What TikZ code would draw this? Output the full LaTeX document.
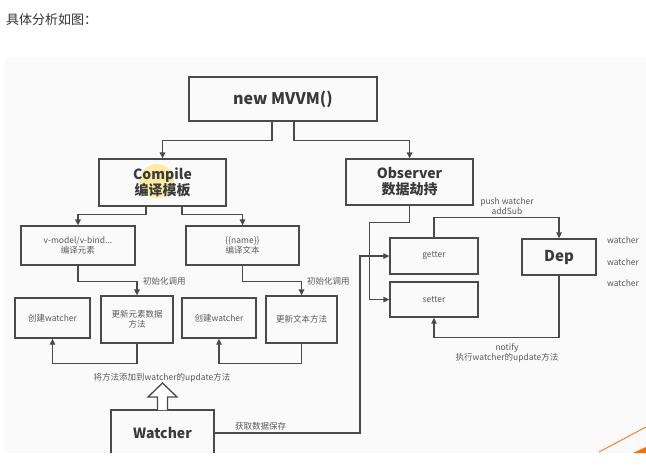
\documentclass[tikz,border=0pt]{standalone}
\usepackage{fontspec}
\setmainfont{Noto Sans CJK SC}
\usetikzlibrary{arrows.meta}
\definecolor{ln}{HTML}{4A4A4A}
\definecolor{tx}{HTML}{3A3A3A}
\definecolor{stx}{HTML}{5A5A5A}
\tikzset{
  box/.style={draw=ln, line width=1.3pt, inner sep=0pt, align=center, text=tx},
  small/.style={font=\fontsize{8.5}{10.5}\selectfont, text=stx},
  big/.style={font=\fontsize{14}{16}\selectfont\bfseries, text=tx},
  arr/.style={draw=ln, line width=1.3pt, -{Triangle[length=6pt,width=5.5pt]}},
  lbl/.style={font=\fontsize{8.5}{10.5}\selectfont, text=stx, inner sep=0pt, align=center},
}
\begin{document}
\begin{tikzpicture}[x=1pt,y=-1pt]
\useasboundingbox (0,0) rectangle (646,475);
\fill[white] (0,0) rectangle (646,475);
\fill[black!2] (5,58) rectangle (646,453);
\node[anchor=west, inner sep=0pt, font=\fontsize{13}{15}\selectfont, text=black!80] (title) at (6,20) {具体分析如图：};
% highlight
\fill[yellow!70!orange!60, opacity=0.6] (157,181) circle (17);
% nodes
\node[box, minimum width=188pt, minimum height=44pt, font=\fontsize{16}{18}\selectfont\bfseries] (mvvm) at (283,99) {new MVVM()};
\node[box, minimum width=127pt, minimum height=47pt, big] (compile) at (162.5,182.5) {Compile\\编译模板};
\node[box, minimum width=127pt, minimum height=46pt, big] (observer) at (409.5,182) {Observer\\数据劫持};
\node[box, minimum width=114pt, minimum height=39pt, small] (vmodel) at (78,245.5) {v-model/v-bind...\\编译元素};
\node[box, minimum width=113pt, minimum height=39pt, small] (name) at (242.5,245.5) {\{\{name\}\}\\编译文本};
\node[box, minimum width=75pt, minimum height=40pt, small] (cw1) at (52.5,318) {创建watcher};
\node[box, minimum width=72pt, minimum height=47pt, small] (upd1) at (137,319.5) {更新元素数据\\方法};
\node[box, minimum width=74pt, minimum height=40pt, small] (cw2) at (219,318) {创建watcher};
\node[box, minimum width=71pt, minimum height=47pt, small] (upd2) at (301.5,319.5) {更新文本方法};
\node[box, minimum width=88pt, minimum height=36pt, small] (getter) at (434,256) {getter};
\node[box, minimum width=88pt, minimum height=35pt, small] (setter) at (434,299.5) {setter};
\node[box, minimum width=74pt, minimum height=36pt, font=\fontsize{15}{17}\selectfont\bfseries] (dep) at (559,257) {Dep};
\node[inner sep=0pt, big] (watcher) at (162.5,433) {Watcher};
\draw[ln, line width=1.3pt] (111,453) |- (214,410) -- (214,453);
\coordinate (wR) at (214,433);
% connectors
\draw[arr] ([xshift=-11pt]mvvm.south) -- ++(0,19) -| (compile.north);
\draw[arr] ([xshift=11pt]mvvm.south) -- ++(0,19) -| (observer.north);
\draw[arr] ([xshift=-16.5pt]compile.south) -- ++(0,8) -| (vmodel.north);
\draw[arr] ([xshift=19.5pt]compile.south) -- ++(0,8) -| (name.north);
\draw[arr] (vmodel.south) -- ++(0,16) -| (upd1.north);
\draw[arr] (name.south) -- ++(0,16) -| (upd2.north);
\draw[arr] (upd1.south) -- ++(0,20) -| (cw1.south);
\draw[arr] (upd2.south) -- ++(0,20) -| (cw2.south);
\draw[arr] (wR) -- ++(146,0) |- (getter.west);
\draw[arr] (observer.south) -- ++(0,17) -- ++(-40,0) |- (setter.west);
\draw[arr] (getter.north) -- ++(0,-20) -| (dep.north);
\draw[arr] (dep.south) -- ++(0,62) -| (setter.south);
% hollow arrow
\draw[ln, line width=1.3pt, fill=white, line join=miter] (157.5,410) -- (157.5,397) -- (148,397) -- (162.5,383) -- (177,397) -- (167.5,397) -- (167.5,410);
% labels
\node[lbl, anchor=west] (l1) at (143,281) {初始化调用};
\node[lbl, anchor=west] (l2) at (307,281) {初始化调用};
\node[lbl] (l3) at (162,378) {将方法添加到watcher的update方法};
\node[lbl, anchor=west] (l4) at (235,426) {获取数据保存};
\node[lbl] (l5) at (507,206) {push watcher\\addSub};
\node[lbl] (l6) at (507,353) {notify\\执行watcher的update方法};
\node[lbl] (w1) at (623,240) {watcher};
\node[lbl] (w2) at (623,262) {watcher};
\node[lbl] (w3) at (623,283) {watcher};
% corner decoration
\draw[orange!85!red, line width=0.8pt] (599,452) -- (646,427);
\fill[orange!85!red] (633,453) -- (646,447) -- (646,453) -- cycle;
\end{tikzpicture}
\end{document}
